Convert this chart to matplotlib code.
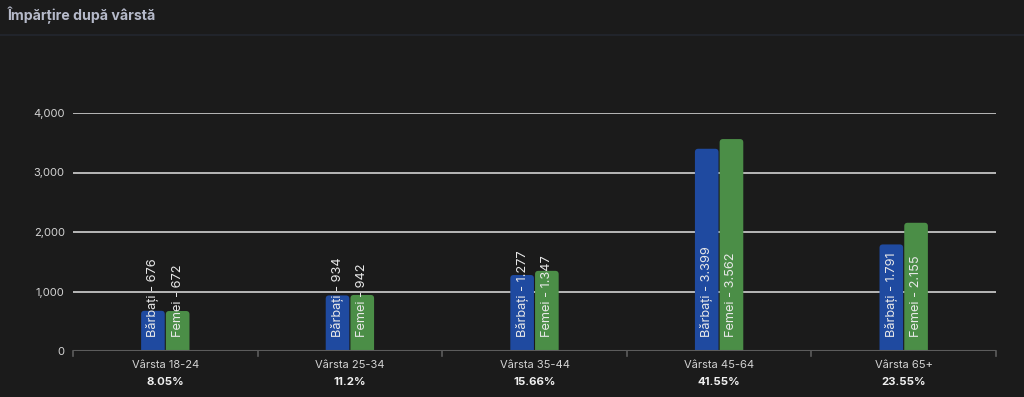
import matplotlib
matplotlib.use("Agg")
import matplotlib.pyplot as plt
from matplotlib.patches import FancyBboxPatch
from matplotlib.lines import Line2D
import numpy as np

plt.rcParams['font.family'] = ['Inter', 'DejaVu Sans']

categories = ["Vârsta 18-24", "Vârsta 25-34", "Vârsta 35-44", "Vârsta 45-64", "Vârsta 65+"]
percentages = ["8.05%", "11.2%", "15.66%", "41.55%", "23.55%"]
men = [676, 934, 1277, 3399, 1791]
women = [672, 942, 1347, 3562, 2155]
series_names = ["Bărbați", "Femei"]
yticks = [0, 1000, 2000, 3000, 4000]
title = "Împărțire după vârstă"

BG = "#1b1b1b"
BLUE = "#1f4aa0"
GREEN = "#4b8e47"
TXT = "#d4d4d4"

W, H = 1024, 397
fig = plt.figure(figsize=(W / 100, H / 100), dpi=100, facecolor=BG)
ax = fig.add_axes([73 / W, (H - 351) / H, (996 - 73) / W, (351 - 113) / H])
ax.set_facecolor(BG)

n = len(categories)
x = np.arange(n)
bw = 0.128
gap = 0.006

def fmt(v):
    return f"{v:,}".replace(",", ".")

ax.set_xlim(-0.5, n - 0.5)
ax.set_ylim(0, 4000)

ypp = 4000 / (351 - 113)
xpp = n / (996 - 73)
aspect = ypp / xpp

for vals, off, col, name in [(men, -(bw / 2 + gap / 2), BLUE, series_names[0]),
                             (women, (bw / 2 + gap / 2), GREEN, series_names[1])]:
    bars = ax.bar(x + off, vals, width=bw, color=col, alpha=0)
    for b, v in zip(bars, vals):
        bx = b.get_x()
        r = 0.018
        p = FancyBboxPatch((bx, -200), bw, v + 200,
                           boxstyle=f"round,pad=0,rounding_size={r}",
                           mutation_aspect=aspect, facecolor=col, edgecolor="none",
                           zorder=3, clip_on=True)
        ax.add_patch(p)
        ax.text(bx + bw / 2, 14 * ypp, f"{name} - {fmt(v)}", rotation=90,
                ha="center", va="bottom", color="#e8e8e8", fontsize=9.2, zorder=4)

for yv in yticks[1:]:
    ax.axhline(yv, color="#c4c4c4", lw=1.3, zorder=1)
ax.axhline(0, color="#5c5c5c", lw=1.5, zorder=5)

for s in ax.spines.values():
    s.set_visible(False)

ax.set_yticks(yticks)
ax.set_yticklabels([f"{v:,}" for v in yticks], color=TXT, fontsize=8)
ax.tick_params(axis="y", length=0, pad=6)

ax.set_xticks(x)
ax.set_xticklabels([])
ax.tick_params(axis="x", length=0)
for xi, c, p in zip(x, categories, percentages):
    ax.text(xi, -14 * ypp, c, ha="center", va="center", color=TXT, fontsize=8, clip_on=False)
    ax.text(xi, -31 * ypp, p, ha="center", va="center", color="#f0f0f0", fontsize=8.2,
            fontweight="bold", clip_on=False)

for bnd in np.arange(-0.5, n, 1.0):
    ax.plot([bnd, bnd], [0, -5 * ypp], color="#5c5c5c", lw=1.2, clip_on=False, zorder=5)

fig.text(8 / W, 1 - 15 / H, title, color="#b5b9c9", fontsize=10.2, fontweight="bold",
         ha="left", va="center")
fig.add_artist(Line2D([0, 1], [1 - 35 / H, 1 - 35 / H], color="#23262f", lw=1.2,
                      transform=fig.transFigure))

fig.savefig("out.png", dpi=100, facecolor=BG)
